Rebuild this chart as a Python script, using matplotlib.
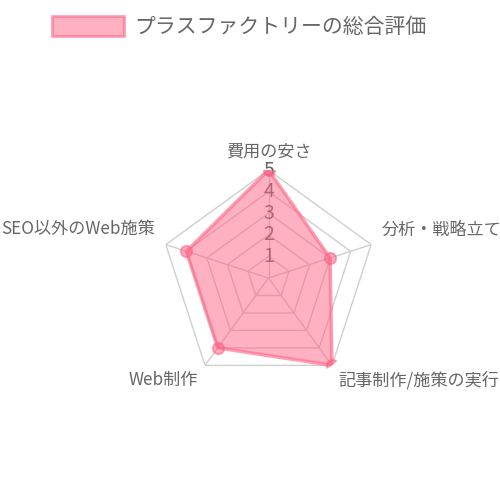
import numpy as np
import matplotlib
matplotlib.use('Agg')
import matplotlib.pyplot as plt
from matplotlib.patches import Patch

plt.rcParams['font.family'] = ['Noto Sans CJK JP', 'DejaVu Sans']

categories = ['費用の安さ', '分析・戦略立て', '記事制作/施策の実行', 'Web制作', 'SEO以外のWeb施策']
scores = [5, 3, 5, 4, 4]
ticks = [1, 2, 3, 4, 5]
series_name = 'プラスファクトリーの総合評価'

fill_c = (1.0, 0.388, 0.518, 0.5)
line_c = (1.0, 0.388, 0.518, 0.6)
grid_c = '#cfcfcf'
text_c = '#666666'

fig = plt.figure(figsize=(5, 5), dpi=100)
# center at (268.5, 278) px, radius 108 px
cx, cy, R = 268.5, 278, 108
ax = fig.add_axes([(cx - R) / 500, (500 - cy - R) / 500, 2 * R / 500, 2 * R / 500],
                  projection='polar')
ax.set_theta_zero_location('N')
ax.set_theta_direction(-1)
ax.set_ylim(0, 5)
ax.grid(False)
ax.spines['polar'].set_visible(False)
ax.set_xticks([])
ax.set_yticks([])
ax.patch.set_alpha(0)

n = len(categories)
theta = np.arange(n) * 2 * np.pi / n
theta_c = np.append(theta, theta[0])

# pentagon grid + spokes
for k in ticks:
    ax.plot(theta_c, [k] * (n + 1), color=grid_c, lw=1, zorder=1)
for t in theta:
    ax.plot([t, t], [0, ticks[-1]], color=grid_c, lw=1, zorder=1)

for k in ticks:
    ax.text(0, k, str(k), ha='center', va='center', fontsize=14, color=text_c, zorder=2)

vals = np.append(scores, scores[0])
ax.fill(theta_c, vals, color=fill_c, lw=0, zorder=3)
ax.plot(theta_c, vals, color=line_c, lw=2.5, zorder=4)
ax.plot(theta, scores, 'o', ms=8, mfc=fill_c, mec=line_c, mew=1.5, zorder=5)

# point labels
offsets = [((0, 18), 'center'), ((10, 15), 'left'), ((6, -15), 'left'),
           ((-7, -15), 'right'), ((-11, 16), 'right')]
for t, lab, (off, ha) in zip(theta, categories, offsets):
    ax.annotate(lab, xy=(t, ticks[-1]), xytext=off, textcoords='offset pixels',
                ha=ha, va='center', fontsize=12.3, color=text_c, annotation_clip=False)

h = Patch(facecolor=fill_c, edgecolor=line_c, lw=2)
fig.legend([h], [series_name], loc='center', bbox_to_anchor=(0.478, 0.946),
           frameon=False, fontsize=15, labelcolor=text_c,
           handlelength=3.45, handleheight=1.15, handletextpad=0.5)

fig.savefig('out.png', dpi=100)
